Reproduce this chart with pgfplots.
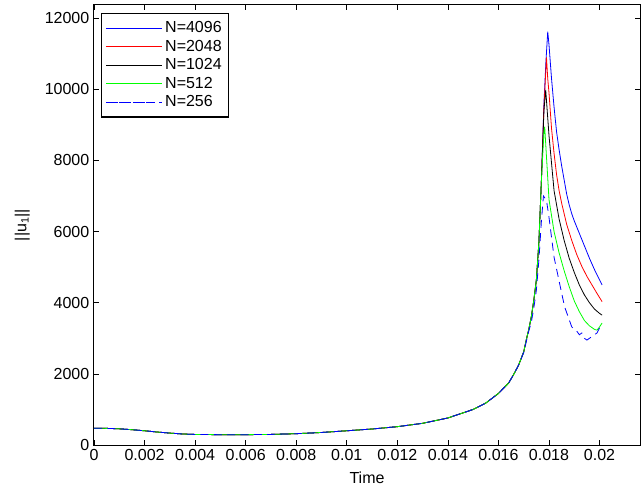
\documentclass[border=0pt]{standalone}
\usepackage{pgfplots}
\usepackage{pgfplotstable}
\pgfplotsset{compat=1.18}
\usepackage{fontspec}
\setmainfont{Liberation Sans}

% N=4096
\pgfplotstableread{
t v
0 470
0.0005 468
0.001 455
0.0015 430
0.002 400
0.0025 365
0.003 335
0.0035 310
0.004 297
0.005 290
0.006 290
0.007 298
0.008 318
0.009 352
0.010 400
0.011 450
0.012 515
0.013 610
0.014 760
0.015 1000
0.0155 1180
0.016 1450
0.0164 1740
0.0166 1980
0.0168 2250
0.0170 2620
0.0171 2950
0.0172 3250
0.0173 3600
0.0174 4075
0.0175 4640
0.0176 5700
0.0177 7450
0.0178 9600
0.01788 10800
0.01795 11620
0.0180 11250
0.0181 10300
0.0182 9500
0.0183 8800
0.0184 8300
0.0185 7850
0.0186 7450
0.0187 7050
0.0188 6750
0.0189 6500
0.0190 6300
0.0192 5950
0.0194 5600
0.0196 5250
0.0198 4930
0.0200 4640
0.0201 4500
}\tblue

% N=2048
\pgfplotstableread{
t v
0 470
0.0005 468
0.001 455
0.0015 430
0.002 400
0.0025 365
0.003 335
0.0035 310
0.004 297
0.005 290
0.006 290
0.007 298
0.008 318
0.009 352
0.010 400
0.011 450
0.012 515
0.013 610
0.014 760
0.015 1000
0.0155 1180
0.016 1450
0.0164 1740
0.0166 1980
0.0168 2250
0.0170 2620
0.0171 2950
0.0172 3250
0.0173 3600
0.0174 4075
0.0175 4640
0.0176 5700
0.0177 7450
0.0178 9500
0.0179 10900
0.01795 10300
0.0180 9900
0.0181 8900
0.0182 8200
0.0183 7600
0.0184 7150
0.0185 6800
0.0187 6200
0.0189 5750
0.0191 5350
0.0193 5020
0.0195 4740
0.0197 4500
0.0199 4260
0.0201 4030
}\tred

% N=1024
\pgfplotstableread{
t v
0 470
0.0005 468
0.001 455
0.0015 430
0.002 400
0.0025 365
0.003 335
0.0035 310
0.004 297
0.005 290
0.006 290
0.007 298
0.008 318
0.009 352
0.010 400
0.011 450
0.012 515
0.013 610
0.014 760
0.015 1000
0.0155 1180
0.016 1450
0.0164 1740
0.0166 1980
0.0168 2250
0.0170 2620
0.0171 2950
0.0172 3250
0.0173 3600
0.0174 4075
0.0175 4640
0.0176 5700
0.0177 7450
0.0178 9400
0.01787 9980
0.0180 8700
0.0182 7150
0.0184 6350
0.0186 5750
0.0188 5250
0.0190 4850
0.0192 4500
0.0194 4220
0.0196 4000
0.0198 3820
0.0200 3700
0.0201 3650
}\tblack

% N=512
\pgfplotstableread{
t v
0 470
0.0005 468
0.001 455
0.0015 430
0.002 400
0.0025 365
0.003 335
0.0035 310
0.004 297
0.005 290
0.006 290
0.007 298
0.008 318
0.009 352
0.010 400
0.011 450
0.012 515
0.013 610
0.014 760
0.015 1000
0.0155 1180
0.016 1450
0.0164 1740
0.0166 1980
0.0168 2250
0.0170 2620
0.0171 2950
0.0172 3250
0.0173 3600
0.0174 4075
0.0175 4640
0.0176 5700
0.0177 7450
0.0178 8800
0.01783 8950
0.0180 6900
0.0182 6000
0.0184 5400
0.0186 4900
0.0188 4450
0.0190 4050
0.0192 3750
0.0194 3500
0.0196 3350
0.0198 3250
0.0199 3230
0.0200 3320
0.0201 3430
}\tgreen

% N=256
\pgfplotstableread{
t v
0 470
0.0005 468
0.001 455
0.0015 430
0.002 400
0.0025 365
0.003 335
0.0035 310
0.004 297
0.005 290
0.006 290
0.007 298
0.008 318
0.009 352
0.010 400
0.011 450
0.012 515
0.013 610
0.014 760
0.015 1000
0.0155 1180
0.016 1450
0.0164 1740
0.0166 1980
0.0168 2250
0.0170 2600
0.0171 2900
0.0172 3200
0.0173 3450
0.0174 3850
0.0175 4350
0.0176 5200
0.0177 6300
0.01778 7000
0.0179 6880
0.0180 6400
0.0182 5280
0.0185 4270
0.01862 3880
0.0189 3320
0.0191 3200
0.0192 3100
0.0193 3150
0.0194 3000
0.0195 2950
0.0197 3050
0.0199 3150
0.0200 3290
}\tdashed

\begin{document}
\begin{tikzpicture}[x=1pt,y=1pt]
\begin{axis}[
  name=ax,
  at={(0,0)}, anchor=south west,
  scale only axis,
  width=409.5pt, height=330pt,
  xmin=0, xmax=0.0216,
  ymin=0, ymax=12370,
  xtick={0,0.002,...,0.0201},
  ytick={0,2000,...,12000},
  xticklabels={0,0.002,0.004,0.006,0.008,0.01,0.012,0.014,0.016,0.018,0.02},
  scaled x ticks=false, scaled y ticks=false,
  /pgf/number format/assume math mode=true,
  yticklabel style={/pgf/number format/set thousands separator={}},
  tick align=inside,
  major tick length=3.75pt,
  tick style={black, line width=0.5pt},
  axis line style={line width=0.75pt},
  font=\fontsize{12}{14}\selectfont,
  xlabel={Time},
  ylabel={||u\textsubscript{1}||},
  xlabel style={yshift=-1pt},
  ylabel style={yshift=4.5pt},
  legend cell align=left,
  legend style={at={(0,1)}, anchor=north west, xshift=5.25pt, yshift=-6pt,
    line width=1.1pt, font=\fontsize{12}{14}\selectfont,
    inner xsep=3pt, inner ysep=4pt, row sep=0pt},
  every axis plot/.append style={line width=0.6pt},
  legend image code/.code={\path (-3pt,0pt) -- (39pt,0pt);\draw[line width=0.9pt, #1] (0pt,0pt) -- (34pt,0pt);},
]
\addplot[blue] table {\tblue};
\addlegendentry{N=4096}
\addplot[red] table {\tred};
\addlegendentry{N=2048}
\addplot[black] table {\tblack};
\addlegendentry{N=1024}
\addplot[green] table {\tgreen};
\addlegendentry{N=512}
\addplot[blue, dash pattern=on 6pt off 4pt] table {\tdashed};
\addlegendentry{N=256}
\end{axis}
\pgfresetboundingbox
\path (-70.5pt,-33pt) rectangle (410.25pt,333.75pt);
\end{tikzpicture}
\end{document}
